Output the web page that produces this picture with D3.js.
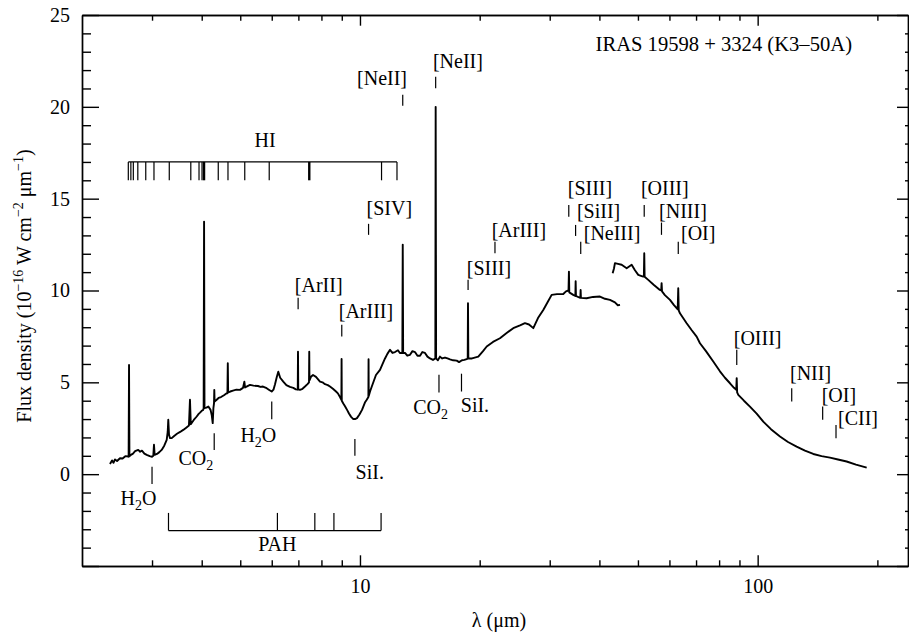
<!DOCTYPE html>
<html>
<head>
<meta charset="utf-8">
<script src="https://cdn.jsdelivr.net/npm/d3@7/dist/d3.min.js"></script>
<style>
body { margin: 0; background: #fff; }
</style>
</head>
<body>
<svg id="chart" width="909" height="635"></svg>
<script>
// SWS spectrum (wavelength in micron, flux in 1e-16 W cm-2 um-1)
const swsWave = [2.352, 2.38, 2.40, 2.421, 2.45, 2.492, 2.53, 2.57, 2.615, 2.620, 2.626, 2.632, 2.655, 2.687, 2.72, 2.770, 2.80, 2.830, 2.87, 2.909,
	2.96, 3.00, 3.022, 3.034, 3.046, 3.087, 3.13, 3.172, 3.22, 3.266, 3.285, 3.296, 3.310, 3.33, 3.362, 3.41, 3.466, 3.53, 3.594, 3.65,
	3.715, 3.737, 3.755, 3.82, 3.886, 3.93, 3.961, 4.00, 4.036, 4.045, 4.055, 4.065, 4.11, 4.157, 4.21, 4.24, 4.263, 4.28, 4.295, 4.302,
	4.31, 4.362, 4.41, 4.473, 4.55, 4.622, 4.642, 4.652, 4.662, 4.72, 4.793, 4.89, 4.992, 5.08, 5.12, 5.14, 5.20, 5.290, 5.40, 5.541,
	5.62, 5.703, 5.826, 5.90, 5.998, 6.06, 6.115, 6.18, 6.232, 6.30, 6.414, 6.53, 6.668, 6.797, 6.90, 6.975, 6.985, 6.995, 7.065, 7.17,
	7.273, 7.38, 7.445, 7.455, 7.465, 7.529, 7.62, 7.752, 7.934, 8.05, 8.166, 8.30, 8.406, 8.55, 8.705, 8.80, 8.907, 8.98, 8.99, 9.00,
	9.08, 9.170, 9.28, 9.383, 9.50, 9.622, 9.72, 9.828, 9.97, 10.12, 10.29, 10.40, 10.50, 10.51, 10.52, 10.60, 10.72, 10.97, 11.23, 11.40,
	11.56, 11.72, 11.90, 12.07, 12.25, 12.46, 12.6, 12.78, 12.81, 12.84, 12.98, 13.15, 13.36, 13.55, 13.75, 13.95, 14.16, 14.35, 14.57, 14.78,
	15.00, 15.26, 15.47, 15.50, 15.54, 15.70, 15.89, 16.10, 16.36, 16.60, 16.84, 17.15, 17.51, 17.75, 18.05, 18.30, 18.55, 18.66, 18.69, 18.73,
	19.13, 19.84, 20.39, 20.83, 21.60, 22.49, 23.42, 24.29, 25.26, 25.99, 26.61, 27.28, 28.03, 28.90, 29.70, 30.34, 31.29, 32.45, 32.96, 33.45,
	33.53, 33.60, 34.38, 34.80, 34.86, 34.92, 35.33, 35.82, 35.88, 35.94, 37.15, 38.54, 40.13, 41.31, 42.52, 43.77, 44.5, 45.07];
const swsFlux = [0.55, 0.75, 0.62, 0.8, 0.72, 0.87, 0.85, 0.98, 0.96, 0.95, 5.95, 0.98, 1.05, 1.12, 1.25, 1.32, 1.22, 1.28, 1.12, 1.05,
	0.98, 0.95, 1.0, 1.6, 1.05, 1.1, 1.2, 1.32, 1.55, 1.87, 2.3, 2.96, 2.15, 1.96, 1.96, 2.08, 2.2, 2.3, 2.41, 2.52,
	2.65, 4.05, 2.72, 2.95, 3.14, 3.28, 3.35, 3.45, 3.5, 3.6, 13.75, 3.6, 3.62, 3.68, 3.5, 3.2, 2.78, 3.6, 3.85, 4.59,
	3.95, 4.05, 4.15, 4.2, 4.3, 4.41, 4.4, 6.04, 4.45, 4.5, 4.55, 4.6, 4.59, 4.7, 5.04, 4.72, 4.78, 4.86, 4.82, 4.8,
	4.75, 4.77, 4.68, 4.6, 4.5, 4.6, 4.9, 5.3, 5.58, 5.25, 5.04, 4.85, 4.75, 4.7, 4.62, 4.6, 6.67, 4.62, 4.59, 4.65,
	4.77, 4.9, 5.0, 6.67, 5.1, 5.3, 5.4, 5.3, 5.04, 5.0, 4.9, 4.85, 4.77, 4.65, 4.5, 4.4, 4.2, 4.05, 6.27, 4.0,
	3.85, 3.7, 3.5, 3.3, 3.12, 3.0, 3.0, 3.05, 3.25, 3.5, 3.9, 4.05, 4.2, 6.26, 4.25, 4.5, 4.8, 5.4, 5.68, 6.0,
	6.3, 6.55, 6.77, 6.6, 6.65, 6.75, 6.6, 6.6, 12.5, 6.6, 6.6, 6.45, 6.5, 6.7, 6.65, 6.45, 6.45, 6.65, 6.6, 6.4,
	6.3, 6.22, 6.3, 20.0, 6.3, 6.2, 6.4, 6.3, 6.35, 6.3, 6.25, 6.2, 6.18, 6.1, 6.2, 6.22, 6.26, 6.3, 9.31, 6.3,
	6.3, 6.4, 6.7, 6.95, 7.2, 7.4, 7.7, 7.95, 8.1, 8.22, 8.15, 7.95, 8.5, 8.94, 9.4, 9.76, 9.8, 9.81, 9.95, 10.0,
	11.03, 9.9, 9.76, 9.7, 10.5, 9.7, 9.65, 9.6, 10.03, 9.6, 9.58, 9.65, 9.67, 9.55, 9.49, 9.35, 9.2, 9.22];

// LWS spectrum
const lwsWave = [43.19, 43.52, 43.77, 44.54, 45.50, 46.84, 48.21, 49.14, 50.09, 50.87, 51.55, 51.75, 51.86, 51.97, 53.07, 54.85, 56.78, 57.2, 57.34, 57.48,
	58.44, 60.19, 61.60, 62.95, 63.14, 63.32, 63.77, 66.29, 68.2, 70.24, 71.60, 74.13, 77.33, 80.38, 82.75, 85.20, 87.20, 88.35, 88.57, 88.8,
	89.39, 92.37, 95.63, 99.42, 103.3, 108.0, 113.8, 119.2, 125.3, 131.5, 138.0, 144.8, 152.0, 159.2, 167.4, 176.7, 188.0];
const lwsFlux = [10.94, 11.2, 11.49, 11.45, 11.4, 11.21, 11.4, 11.1, 10.85, 10.8, 10.76, 10.8, 12.03, 10.75, 10.58, 10.3, 10.03, 10.0, 10.4, 9.95,
	9.75, 9.49, 9.2, 8.98, 10.12, 8.92, 8.76, 8.22, 7.85, 7.49, 7.13, 6.7, 6.13, 5.6, 5.25, 4.95, 4.7, 4.6, 5.23, 4.45,
	4.32, 4.0, 3.68, 3.3, 2.86, 2.45, 2.05, 1.75, 1.5, 1.28, 1.1, 0.98, 0.9, 0.8, 0.69, 0.52, 0.36];

// emission line identifications (above the spectrum)
const lineNames = ['[NeII]', '[NeII]', '[SIV]', '[ArII]', '[ArIII]', '[SIII]', '[ArIII]', '[SIII]', '[SiII]', '[NeIII]',
	'[OIII]', '[NIII]', '[OI]', '[OIII]', '[NII]', '[OI]', '[CII]'];
const lineWaves = [12.81, 15.5, 10.51, 6.99, 9.0, 18.7, 21.85, 33.5, 34.85, 35.9, 51.85, 57.3, 63.15, 88.6, 121.8, 145.7, 157.4];
const lineTickTop = [20.66, 21.64, 13.63, 9.61, 8.13, 10.58, 12.66, 14.66, 13.57, 12.66, 14.66, 13.7, 12.66, 6.77, 4.68, 3.68, 2.68];
const lineTickBottom = [20.06, 21.01, 13.03, 8.98, 7.49, 10.03, 12.03, 14.02, 12.97, 11.99, 14.02, 13.03, 11.99, 5.95, 3.95, 2.96, 1.96];

// absorption / solid-state features (below the spectrum), "_2" = subscript
const featureNames = ['H_2O', 'CO_2', 'H_2O', 'SiI.', 'CO_2', 'SiI.'];
const featureWaves = [3.0, 4.30, 6.0, 9.71, 15.8, 18.0];
const featureTickTop = [0.41, 2.23, 3.95, 1.91, 5.41, 5.47];
const featureTickBottom = [-0.53, 1.32, 2.99, 1.0, 4.45, 4.5];

// HI recombination lines and PAH bands
const hiWaves = [2.615, 2.654, 2.692, 2.763, 2.893, 3.034, 3.315, 3.755, 3.938, 4.007, 4.054, 4.402, 4.657, 5.132, 5.913, 7.456, 11.33, 12.39];
const hiStrong = [4.054, 7.456];
const hiLevel = [17, 16];
const pahWaves = [3.3, 6.2, 7.7, 8.6, 11.3];
const pahLevel = [-3.07, -2.11];

const xMajor = [10, 100];
const xMinor = [3, 4, 5, 6, 7, 8, 9, 20, 30, 40, 50, 60, 70, 80, 90, 200];
const yMajor = [-5, 0, 5, 10, 15, 20, 25];
const yMinor = d3.range(-5, 26).filter(d => d % 5 !== 0);

const title = 'IRAS 19598 + 3324 (K3\u201350A)';

// label layout: offsets in px from the tick mark
const lineLabelPos = [
	{ dx: 4.3, dy: -10, anchor: 'end' },
	{ dx: -2.7, dy: -8.4, anchor: 'start' },
	{ dx: -2, dy: -9, anchor: 'start' },
	{ dx: -3.3, dy: -6, anchor: 'start' },
	{ dx: -3, dy: -6.7, anchor: 'start' },
	{ dx: -1.3, dy: -5, anchor: 'start' },
	{ dx: -3.3, dy: -5, anchor: 'start' },
	{ dx: -1, dy: -10, anchor: 'start' },
	{ dx: 1.3, dy: -6.7, anchor: 'start' },
	{ dx: 3, dy: -1.7, anchor: 'start' },
	{ dx: -3.3, dy: -10, anchor: 'start' },
	{ dx: -2.4, dy: -4.5, anchor: 'start' },
	{ dx: 2.7, dy: -1.7, anchor: 'start' },
	{ dx: -3, dy: -5, anchor: 'start' },
	{ dx: -1.7, dy: -8.3, anchor: 'start' },
	{ dx: -1, dy: -5, anchor: 'start' },
	{ dx: 2, dy: 0, anchor: 'start' },
];
const featureLabelPos = [
	{ dx: -13.5, dy: 21, anchor: 'middle' },
	{ dx: -1, dy: 15, anchor: 'end' },
	{ dx: -13.4, dy: 22.4, anchor: 'middle' },
	{ dx: 0.7, dy: 23, anchor: 'start' },
	{ dx: -25.7, dy: 21.6, anchor: 'start' },
	{ dx: -0.7, dy: 20, anchor: 'start' },
];

const fontFamily = '"Liberation Serif"';
const fontSize = 20;
const svg = d3.select('#chart');
const x = d3.scaleLog().domain([2, 238.8]).range([82, 908]);
const y = d3.scaleLinear().domain([-5, 25]).range([566, 15]);

// text with the serif font set on the element itself
const addText = (parent, px, py, str, anchor, size) => parent.append('text')
	.attr('x', px).attr('y', py).attr('text-anchor', anchor || 'start')
	.attr('font-family', fontFamily).attr('font-size', size || fontSize).attr('fill', '#000')
	.text(str);

// axes, ticks pointing inward
const styleAxis = (g) => {
	g.attr('font-size', fontSize).attr('font-family', fontFamily);
	g.selectAll('path, line').attr('stroke', '#000').attr('stroke-width', 1.4);
	g.selectAll('text').attr('fill', '#000').attr('font-family', fontFamily).attr('font-size', fontSize);
};
svg.append('g').attr('transform', `translate(0,${y(-5)})`)
	.call(d3.axisBottom(x).tickValues(xMajor).tickFormat(d3.format('d')).tickSize(-10.7).tickSizeOuter(0).tickPadding(12.8))
	.call(styleAxis);
svg.append('g').attr('transform', `translate(0,${y(-5)})`)
	.call(d3.axisBottom(x).tickValues(xMinor).tickFormat('').tickSize(-5.7).tickSizeOuter(0))
	.call(styleAxis);
svg.append('g').attr('transform', `translate(0,${y(25)})`)
	.call(d3.axisTop(x).tickValues(xMajor).tickFormat('').tickSize(-10.7).tickSizeOuter(0))
	.call(styleAxis);
svg.append('g').attr('transform', `translate(0,${y(25)})`)
	.call(d3.axisTop(x).tickValues(xMinor).tickFormat('').tickSize(-5.7).tickSizeOuter(0))
	.call(styleAxis);
svg.append('g').attr('transform', `translate(${x.range()[0]},0)`)
	.call(d3.axisLeft(y).tickValues(yMajor).tickFormat(d => d < 0 ? '' : d).tickSize(-17).tickSizeOuter(0).tickPadding(12))
	.call(styleAxis);
svg.append('g').attr('transform', `translate(${x.range()[0]},0)`)
	.call(d3.axisLeft(y).tickValues(yMinor).tickFormat('').tickSize(-9).tickSizeOuter(0))
	.call(styleAxis);
svg.append('g').attr('transform', `translate(${x.range()[1]},0)`)
	.call(d3.axisRight(y).tickValues(yMajor).tickFormat('').tickSize(-11).tickSizeOuter(0))
	.call(styleAxis);
svg.append('g').attr('transform', `translate(${x.range()[1]},0)`)
	.call(d3.axisRight(y).tickValues(yMinor).tickFormat('').tickSize(-3).tickSizeOuter(0))
	.call(styleAxis);

// axis titles
addText(svg, 499, 627, '\u03bb (\u03bcm)', 'middle');
const yTitle = addText(svg, 0, 0, null, 'middle').attr('transform', 'translate(31,286) rotate(-90)');
[['Flux density (10', 0], ['\u221216', 1], [' W cm', 0], ['\u22122', 1], [' \u03bcm', 0], ['\u22121', 1], [')', 0]]
	.forEach(([t, sup], i, arr) => {
		const prev = i > 0 ? arr[i - 1][1] : 0;
		yTitle.append('tspan').attr('font-family', fontFamily).attr('font-size', sup ? 14 : fontSize)
			.attr('dy', sup && !prev ? -8 : (!sup && prev ? 8 : 0)).text(t);
	});

addText(svg, 852, 51, title, 'end', 20.6);

// spectrum
const line = d3.line().x(d => x(d[0])).y(d => y(d[1]));
[[swsWave, swsFlux], [lwsWave, lwsFlux]].forEach(([w, f]) => {
	svg.append('path').datum(d3.zip(w, f)).attr('d', line)
		.attr('fill', 'none').attr('stroke', '#000').attr('stroke-width', 1.9)
		.attr('stroke-linejoin', 'round');
});

// subscript helper: 'H_2O' -> H, sub 2, O
const addLabel = (sel, txt) => {
	txt.split(/(_\d)/).filter(s => s).forEach(s => {
		if (s[0] === '_') {
			sel.append('tspan').attr('font-family', fontFamily).attr('font-size', 14).attr('dy', 5).text(s.slice(1));
		} else {
			const sub = sel.selectAll('tspan').size() > 0;
			sel.append('tspan').attr('font-family', fontFamily).attr('font-size', fontSize).attr('dy', sub ? -5 : 0).text(s);
		}
	});
};

const marks = svg.append('g').attr('stroke', '#000').attr('stroke-width', 1.2);

// emission line markers
lineNames.forEach((name, i) => {
	const px = x(lineWaves[i]);
	marks.append('line').attr('x1', px).attr('x2', px)
		.attr('y1', y(lineTickTop[i])).attr('y2', y(lineTickBottom[i]));
	addText(svg, px + lineLabelPos[i].dx, y(lineTickTop[i]) + lineLabelPos[i].dy, name, lineLabelPos[i].anchor);
});

// feature markers
featureNames.forEach((name, i) => {
	const px = x(featureWaves[i]);
	marks.append('line').attr('x1', px).attr('x2', px)
		.attr('y1', y(featureTickTop[i])).attr('y2', y(featureTickBottom[i]));
	const t = addText(svg, px + featureLabelPos[i].dx, y(featureTickBottom[i]) + featureLabelPos[i].dy, null, featureLabelPos[i].anchor);
	addLabel(t, name);
});

// HI comb
marks.append('line').attr('x1', x(hiWaves[0])).attr('x2', x(hiWaves[hiWaves.length - 1]))
	.attr('y1', y(hiLevel[0])).attr('y2', y(hiLevel[0]));
marks.selectAll('line.hi').data(hiWaves).enter().append('line').classed('hi', true)
	.attr('x1', d => x(d)).attr('x2', d => x(d))
	.attr('y1', y(hiLevel[0])).attr('y2', y(hiLevel[1]))
	.attr('stroke-width', d => hiStrong.includes(d) ? 2.4 : 1.2);
addText(svg, x(5.77), y(17.84), 'HI', 'middle');

// PAH comb
marks.append('line').attr('x1', x(pahWaves[0])).attr('x2', x(pahWaves[pahWaves.length - 1]))
	.attr('y1', y(pahLevel[0])).attr('y2', y(pahLevel[0]));
marks.selectAll('line.pah').data(pahWaves).enter().append('line').classed('pah', true)
	.attr('x1', d => x(d)).attr('x2', d => x(d))
	.attr('y1', y(pahLevel[0])).attr('y2', y(pahLevel[1]));
addText(svg, x(6.2), y(-4.2), 'PAH', 'middle');
</script>
</body>
</html>
